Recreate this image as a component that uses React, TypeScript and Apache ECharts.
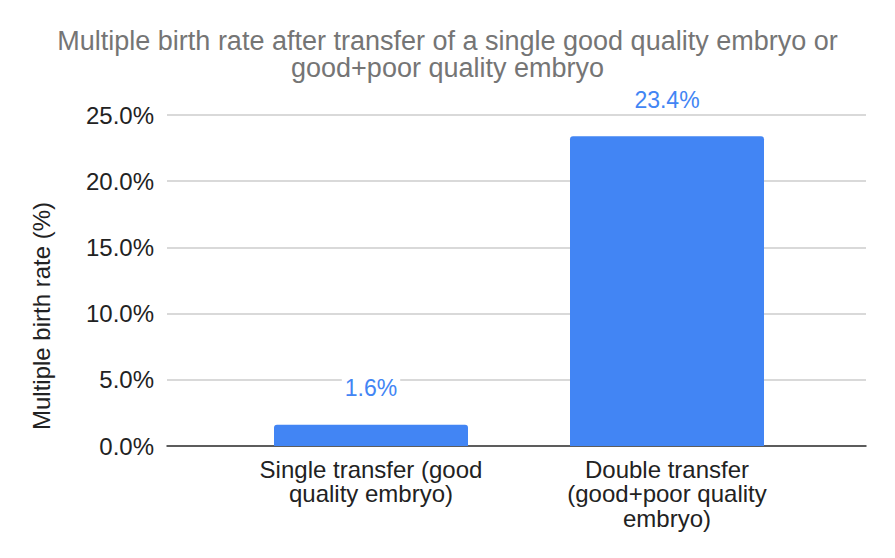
import { useEffect, useRef } from 'react'
import * as echarts from 'echarts'

// chart data
const categories = ['Single transfer (good\nquality embryo)', 'Double transfer\n(good+poor quality\nembryo)']
const birthRates = [1.6, 23.4]
const yTicks = [0, 5, 10, 15, 20, 25]

const FONT = '"Liberation Sans", Arial, sans-serif'

export default function App() {
  const chartRef = useRef<HTMLDivElement>(null)

  useEffect(() => {
    if (!chartRef.current) return
    document.body.style.margin = '0'
    const chart = echarts.init(chartRef.current, null, { renderer: 'svg' })

    const yMax = yTicks[yTicks.length - 1]

    chart.setOption({
      animation: false,
      textStyle: { fontFamily: FONT },
      title: {
        text: 'Multiple birth rate after transfer of a single good quality embryo or\ngood+poor quality embryo',
        left: 'center',
        top: 22,
        textStyle: { fontFamily: FONT, fontSize: 27, fontWeight: 'normal', color: '#757575', lineHeight: 27.5 },
      },
      graphic: [
        {
          type: 'text',
          x: 41,
          y: 316,
          rotation: Math.PI / 2,
          style: {
            text: 'Multiple birth rate (%)',
            font: `24px ${FONT}`,
            fill: '#222222',
            align: 'center',
            verticalAlign: 'middle',
          },
        },
      ],
      grid: [
        // full-width grid for gridlines and value labels
        { left: 167, right: 29, top: 115, bottom: 112 },
        // narrower grid where the bars sit
        { left: 223, right: 80, top: 115, bottom: 112 },
      ],
      xAxis: [
        {
          gridIndex: 0,
          type: 'value',
          min: 0,
          max: 1,
          axisLabel: { show: false },
          axisTick: { show: false },
          splitLine: { show: false },
          axisLine: { show: true, lineStyle: { color: '#333333', width: 1.5 } },
        },
        {
          gridIndex: 1,
          type: 'category',
          data: categories,
          axisLine: { show: false },
          axisTick: { show: false },
          axisLabel: {
            color: '#222222',
            fontSize: 24,
            lineHeight: 24.5,
            margin: 11,
            fontFamily: FONT,
            interval: 0,
          },
        },
      ],
      yAxis: [
        {
          gridIndex: 0,
          type: 'value',
          min: 0,
          max: yMax,
          interval: 5,
          axisLine: { show: false },
          axisTick: { show: false },
          axisLabel: {
            color: '#222222',
            fontSize: 24,
            margin: 13,
            fontFamily: FONT,
            formatter: (v: number) => v.toFixed(1) + '%',
          },
          splitLine: { lineStyle: { color: '#cccccc', width: 1.5 } },
        },
        {
          gridIndex: 1,
          type: 'value',
          min: 0,
          max: yMax,
          interval: 5,
          show: false,
          splitLine: { show: false },
        },
      ],
      series: [
        {
          type: 'bar',
          xAxisIndex: 1,
          yAxisIndex: 1,
          data: birthRates,
          barWidth: 194,
          itemStyle: { color: '#4285f4', borderRadius: [3, 3, 0, 0] },
          z: 3,
          label: {
            show: true,
            position: 'top',
            distance: 24,
            color: '#4285f4',
            fontSize: 23,
            fontFamily: FONT,
            backgroundColor: '#ffffff',
            padding: [1, 3],
            formatter: (p: any) => p.value.toFixed(1) + '%',
          },
        },
      ],
    })

    return () => {
      chart.dispose()
    }
  }, [])

  return <div ref={chartRef} style={{ width: 895, height: 558 }} />
}
